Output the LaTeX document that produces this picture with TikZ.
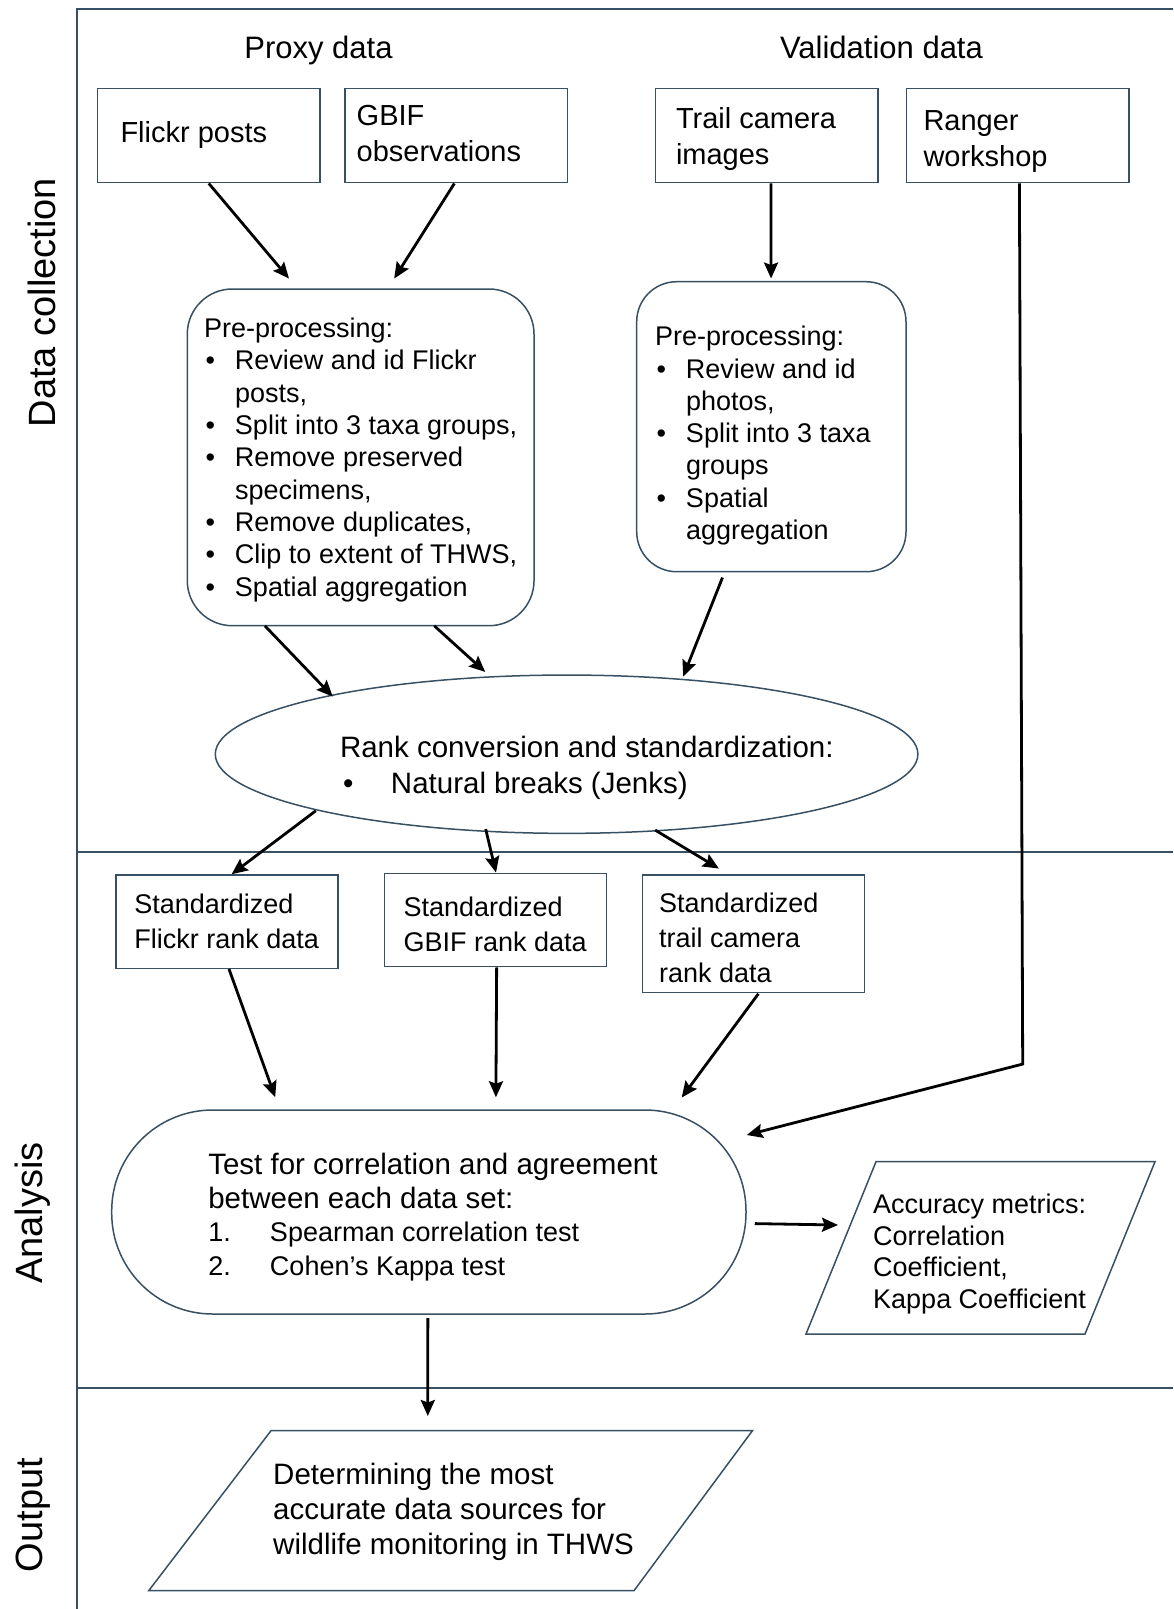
\documentclass[tikz,border=0pt]{standalone}
\usepackage{fontspec}
\setmainfont{Liberation Sans}
\usetikzlibrary{shapes.geometric,arrows.meta,calc}
\definecolor{edgecol}{RGB}{56,80,100}
\newcommand\fsTop{\fontsize{29}{36}\selectfont}
\newcommand\fsStd{\fontsize{27}{35}\selectfont}
\newcommand\fsPre{\fontsize{27}{32.3}\selectfont}
\newcommand\fsRank{\fontsize{29.5}{35.7}\selectfont}
\newcommand\fsTest{\fontsize{29.5}{33.5}\selectfont}
\newcommand\fsItem{\fontsize{27}{33.5}\selectfont}
\newcommand\fsAcc{\fontsize{27}{31.4}\selectfont}
\newcommand\fsOut{\fontsize{29.5}{35}\selectfont}
\newcommand\fsTitle{\fontsize{31}{37}\selectfont}
\newcommand\fsSide{\fontsize{38}{45}\selectfont}
\newcommand\LBox[3]{\makebox[#1][l]{\hspace*{#2}\begin{tabular}{@{}l@{}}#3\end{tabular}}}
\newcommand\Lower[2]{\raisebox{-#1}[\height][\depth]{#2}}
\newcommand\bitem{\hspace*{1.5pt}\makebox[29.5pt][l]{\textbullet}}
\newcommand\bcont{\hspace*{31pt}}
\tikzset{
  shapeline/.style={draw=edgecol, line width=1.5pt},
  sqbox/.style={shapeline, rectangle, inner sep=0pt, font=\fsTop},
  rbox/.style={shapeline, rectangle, rounded corners=45pt, inner sep=0pt, font=\fsPre},
  conn/.style={line width=2.8pt, -{Stealth[length=16pt,width=14pt,inset=2.5pt]}},
  frame/.style={draw=edgecol, line width=2pt},
  sidelbl/.style={font=\fsSide, rotate=90, anchor=base, inner sep=0pt},
  title/.style={font=\fsTitle, anchor=base, inner sep=0pt},
}
\begin{document}
\begin{tikzpicture}[x=1pt, y=-1pt]
\fill[white] (0,0) rectangle (1173,1609);
\useasboundingbox (0,0) rectangle (1173,1609);

% frame and lanes
\draw[frame] (77,1609) -- (77,9) -- (1173,9);
\draw[frame] (77,852) -- (1173,852);
\draw[frame] (77,1387.5) -- (1173,1387.5);
\node[sidelbl] (lblcol) at (55,302.5) {Data collection};
\node[sidelbl] (lblana) at (42,1213) {Analysis};
\node[sidelbl] (lblout) at (42,1515) {Output};

% titles
\node[title] (proxy) at (318.5,58) {Proxy data};
\node[title] (valid) at (881.5,58) {Validation data};

% source boxes
\node[sqbox, minimum width=222.4pt, minimum height=94.4pt] (flickr) at (208.8,135.5)
  {\LBox{222.4pt}{22.9pt}{Flickr posts}};
\node[sqbox, minimum width=222.3pt, minimum height=94.4pt] (gbif) at (456.35,135.5)
  {\Lower{1pt}{\LBox{222.3pt}{11.5pt}{GBIF\\observations}}};
\node[sqbox, minimum width=222.2pt, minimum height=94.4pt] (trail) at (766.7,135.5)
  {\Lower{4pt}{\LBox{222.2pt}{20.4pt}{Trail camera\\images}}};
\node[sqbox, minimum width=222.6pt, minimum height=94.4pt] (ranger) at (1017.6,135.5)
  {\Lower{6pt}{\LBox{222.6pt}{17.2pt}{Ranger\\workshop}}};

% pre-processing
\node[rbox, minimum width=346.7pt, minimum height=336.7pt] (pre1) at (360.65,457.35)
  {\Lower{3pt}{\LBox{346.7pt}{16.7pt}{Pre-processing:\\
   \bitem Review and id Flickr\\
   \bcont posts,\\
   \bitem Split into 3 taxa groups,\\
   \bitem Remove preserved\\
   \bcont specimens,\\
   \bitem Remove duplicates,\\
   \bitem Clip to extent of THWS,\\
   \bitem Spatial aggregation}}};
\node[rbox, rounded corners=40pt, minimum width=269.3pt, minimum height=290pt] (pre2) at (771.35,426.7)
  {\Lower{9.5pt}{\LBox{269.3pt}{18.3pt}{Pre-processing:\\
   \bitem Review and id\\
   \bcont photos,\\
   \bitem Split into 3 taxa\\
   \bcont groups\\
   \bitem Spatial\\
   \bcont aggregation}}};

% rank conversion
\node[shapeline, ellipse, inner sep=0pt, minimum width=702.6pt, minimum height=158.3pt, font=\fsRank] (rank) at (566.6,754.2)
  {\Lower{14pt}{\makebox[0pt]{\hspace{40.4pt}\begin{tabular}{@{}l@{}}Rank conversion and standardization:\\
   \hspace*{3pt}\makebox[48pt][l]{\textbullet}Natural breaks (Jenks)\end{tabular}}}};

% standardized data
\node[sqbox, font=\fsStd, minimum width=221.8pt, minimum height=93.3pt] (sflickr) at (226.9,921.65)
  {\Lower{2.5pt}{\LBox{221.8pt}{18.4pt}{Standardized\\Flickr rank data}}};
\node[sqbox, font=\fsStd, minimum width=221.9pt, minimum height=93.4pt] (sgbif) at (495.65,920)
  {\Lower{6.5pt}{\LBox{221.9pt}{18.9pt}{Standardized\\GBIF rank data}}};
\node[sqbox, font=\fsStd, minimum width=222pt, minimum height=117.7pt] (strail) at (753.3,933.85)
  {\Lower{6.5pt}{\LBox{222pt}{16.9pt}{Standardized\\trail camera\\rank data}}};

% analysis
\node[shapeline, rectangle, rounded corners=101pt, inner sep=0pt, minimum width=634.3pt, minimum height=204pt, font=\fsTest] (test) at (428.85,1212)
  {\Lower{6.5pt}{\LBox{634.3pt}{96.6pt}{Test for correlation and agreement\\
   between each data set:\\
   {\fsItem\makebox[61.7pt][l]{1.}Spearman correlation test}\\
   {\fsItem\makebox[61.7pt][l]{2.}Cohen's Kappa test}}}};

\node[font=\fsAcc, anchor=west, inner sep=0pt] (acc) at (873,1254.8)
  {\begin{tabular}{@{}l@{}}Accuracy metrics:\\Correlation\\Coefficient,\\Kappa Coefficient\end{tabular}};
\draw[shapeline] ($(acc.west)+(3,-93.1)$) -- ($(acc.west)+(282,-93.1)$) -- ($(acc.west)+(212,79.2)$) -- ($(acc.west)+(-67,79.2)$) -- cycle;

% output
\node[font=\fsOut, anchor=west, inner sep=0pt] (outp) at (273,1512.5)
  {\begin{tabular}{@{}l@{}}Determining the most\\accurate data sources for\\wildlife monitoring in THWS\end{tabular}};
\draw[shapeline] ($(outp.west)+(-2,-81.8)$) -- ($(outp.west)+(479.4,-81.8)$) -- ($(outp.west)+(361,78.2)$) -- ($(outp.west)+(-124.3,78.2)$) -- cycle;

% connectors
\draw[conn] (flickr.south) -- ($(pre1.north)+(-71.65,-9.7)$);
\draw[conn] ($(gbif.south)+(-2,0)$) -- ($(pre1.north)+(33.55,-9.7)$);
\draw[conn] ($(trail.south)+(4.3,0)$) -- ($(pre2.north)+(-0.3,-2.4)$);
\draw[conn] ($(ranger.south)+(1.8,0)$) -- ($(ranger.south)+(5.1,880.6)$) -- ($(test.east)+(0,-77)$);
\draw[conn] ($(pre1.south)+(-95.85,-0.7)$) -- ($(rank.north)+(-233.9,22.25)$);
\draw[conn] ($(pre1.south)+(73.55,-0.7)$) -- ($(rank.north)+(-81.4,-2.35)$);
\draw[conn] ($(pre2.south)+(-48.85,5.1)$) -- ($(rank.north)+(116.6,2.25)$);
\draw[conn] ($(rank.south)+(-250.8,-23.35)$) -- ($(sflickr.north)+(4.7,0)$);
\draw[conn] ($(rank.south)+(-80.9,-5.05)$) -- ($(sgbif.north)+(0.35,0)$);
\draw[conn] ($(rank.south)+(88.5,-4.05)$) -- ($(strail.north)+(-34.4,-5.7)$);
\draw[conn] ($(sflickr.south)+(2.1,0)$) -- ($(test.north)+(-153.65,-12)$);
\draw[conn] ($(sgbif.south)+(1,0)$) -- ($(test.north)+(67.05,-12)$);
\draw[conn] ($(strail.south)+(5.1,0.3)$) -- ($(test.north)+(252.85,-11.7)$);
\draw[conn] ($(test.east)+(8,11.6)$) -- ($(acc.west)+(-35,-29.8)$);
\draw[conn] ($(test.south)+(-1,3.4)$) -- ($(outp.west)+(154.8,-96.5)$);
\end{tikzpicture}
\end{document}
